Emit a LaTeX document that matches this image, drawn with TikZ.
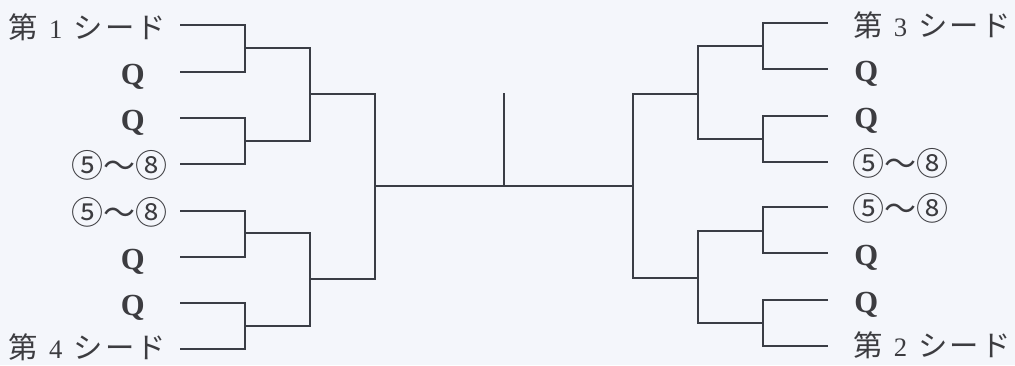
\documentclass[tikz,border=0pt]{standalone}
\usepackage{fontspec}
\setmainfont{Liberation Serif}
\newfontfamily\jpfont{Noto Sans CJK JP}
\definecolor{bgcol}{HTML}{F4F6FB}
\definecolor{inkcol}{HTML}{3A3D45}
\definecolor{txtcol}{HTML}{3C3C40}
\newcommand{\seedtxt}[1]{{\jpfont 第}\hspace{8.5pt}{\fontsize{20}{20}\selectfont #1}\hspace{8.5pt}{\jpfont シ\hspace{1.5pt}ー\hspace{1.5pt}ド}}
\newcommand{\rangetxt}{{\jpfont\fontsize{24}{24}\selectfont ⑤〜⑧}}
\newcommand{\qtxt}{{\fontsize{23}{23}\selectfont\bfseries Q}}
\begin{document}
\begin{tikzpicture}[x=0.75pt,y=-0.75pt,
  bracket/.style={draw=inkcol,line width=1.6pt,line join=miter},
  lbl/.style={inner sep=0pt,text=txtcol,font=\fontsize{22}{22}\selectfont},
  lleft/.style={lbl,anchor=base east},
  lright/.style={lbl,anchor=base west}]
\fill[bgcol] (0,0) rectangle (1015,365);
% left labels
\node[lleft] (L1) at (166,38) {\seedtxt{1}};
\node[lleft] (L2) at (145,84) {\qtxt};
\node[lleft] (L3) at (145,130) {\qtxt};
\node[lleft] (L4) at (168,177) {\rangetxt};
\node[lleft] (L5) at (168,224) {\rangetxt};
\node[lleft] (L6) at (145,269) {\qtxt};
\node[lleft] (L7) at (145,315) {\qtxt};
\node[lleft] (L8) at (166,358) {\seedtxt{4}};
% right labels
\node[lright] (R1) at (853,36) {\seedtxt{3}};
\node[lright] (R2) at (854,81) {\qtxt};
\node[lright] (R3) at (854,128) {\qtxt};
\node[lright] (R4) at (852,175) {\rangetxt};
\node[lright] (R5) at (852,220) {\rangetxt};
\node[lright] (R6) at (854,265) {\qtxt};
\node[lright] (R7) at (854,312) {\qtxt};
\node[lright] (R8) at (853,356) {\seedtxt{2}};
% left bracket coordinates
\coordinate (l1) at (180,25);
\coordinate (l2) at (180,72);
\coordinate (l3) at (180,118);
\coordinate (l4) at (180,164);
\coordinate (l5) at (180,211);
\coordinate (l6) at (180,257);
\coordinate (l7) at (180,303);
\coordinate (l8) at (180,349);
\coordinate (a1) at (245,48);
\coordinate (a2) at (245,141);
\coordinate (a3) at (245,233);
\coordinate (a4) at (245,326);
\coordinate (b1) at (310,94);
\coordinate (b2) at (310,279);
\coordinate (c) at (375,186);
% right bracket coordinates
\coordinate (r1) at (828,23);
\coordinate (r2) at (828,69);
\coordinate (r3) at (828,116);
\coordinate (r4) at (828,162);
\coordinate (r5) at (828,207);
\coordinate (r6) at (828,253);
\coordinate (r7) at (828,300);
\coordinate (r8) at (828,346);
\coordinate (p1) at (763,46);
\coordinate (p2) at (763,139);
\coordinate (p3) at (763,231);
\coordinate (p4) at (763,323);
\coordinate (q1) at (698,94);
\coordinate (q2) at (698,278);
\coordinate (s) at (633,186);
% centre tick
\coordinate (t) at (504,93);
\coordinate (tb) at (504,186);
% left draws
\draw[bracket] (l1) -| (a1) |- (l2);
\draw[bracket] (l3) -| (a2) |- (l4);
\draw[bracket] (l5) -| (a3) |- (l6);
\draw[bracket] (l7) -| (a4) |- (l8);
\draw[bracket] (a1) -| (b1) |- (a2);
\draw[bracket] (a3) -| (b2) |- (a4);
\draw[bracket] (b1) -| (c) |- (b2);
% right draws
\draw[bracket] (r1) -| (p1) |- (r2);
\draw[bracket] (r3) -| (p2) |- (r4);
\draw[bracket] (r5) -| (p3) |- (r6);
\draw[bracket] (r7) -| (p4) |- (r8);
\draw[bracket] (p1) -| (q1) |- (p2);
\draw[bracket] (p3) -| (q2) |- (p4);
\draw[bracket] (q1) -| (s) |- (q2);
% final
\draw[bracket] (c) -- (s);
\draw[bracket] (t) -- (tb);
\end{tikzpicture}
\end{document}
